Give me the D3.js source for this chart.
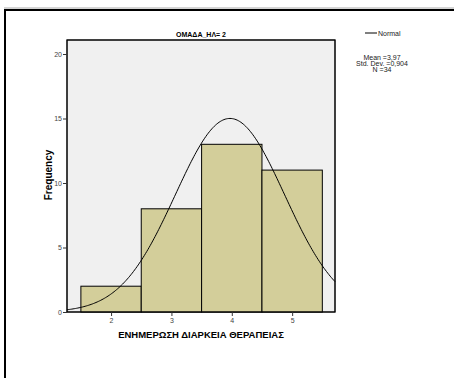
<!DOCTYPE html>
<html><head><meta charset="utf-8">
<script src="https://cdn.jsdelivr.net/npm/d3@7"></script>
<style>body{margin:0;background:#fff;} text{font-family:"Liberation Sans",Arial,sans-serif;}</style>
</head><body>
<svg id="c" width="454" height="378"></svg>
<script>
const categories = [2, 3, 4, 5];
const frequencies = [2, 8, 13, 11];
const yTicks = [0, 5, 10, 15, 20];
const xTicks = [2, 3, 4, 5];
const title = "ΟΜΑΔΑ_ΗΛ= 2";
const xLabel = "ΕΝΗΜΕΡΩΣΗ ΔΙΑΡΚΕΙΑ ΘΕΡΑΠΕΙΑΣ";
const yLabel = "Frequency";
const stats = ["Mean =3,97", "Std. Dev. =0,904", "N =34"];
const mean = 3.97, sd = 0.904, n = 34;

const svg = d3.select("#c");
// frame
svg.append("line").attr("x1",4).attr("x2",454).attr("y1",8).attr("y2",8).attr("stroke","#aaa").attr("stroke-width",1);
svg.append("line").attr("x1",5).attr("x2",454).attr("y1",10).attr("y2",10).attr("stroke","#000").attr("stroke-width",2);
svg.append("line").attr("x1",5).attr("x2",5).attr("y1",9).attr("y2",378).attr("stroke","#000").attr("stroke-width",2);

const L = 67, R = 335, T = 40, B = 312;
const x = d3.scaleLinear().domain([1.27, 5.71]).range([L, R]);
const y = d3.scaleLinear().domain([0, 20]).range([B, B - 20*12.9]);

svg.append("rect").attr("x",L).attr("y",T).attr("width",R-L).attr("height",B-T)
  .attr("fill","#f0f0f0").attr("stroke","#000").attr("stroke-width",1);

const g = svg.append("g");
g.selectAll("rect.bar").data(categories).join("rect").attr("class","bar")
  .attr("x", d => x(d-0.5)).attr("width", d => x(d+0.5)-x(d-0.5))
  .attr("y", (d,i) => y(frequencies[i])).attr("height", (d,i) => B - y(frequencies[i]))
  .attr("fill","#d3ce9a").attr("stroke","#000").attr("stroke-width",1);

// normal curve
const pts = d3.range(x.domain()[0], x.domain()[1]+0.001, 0.02).map(v => [v, n*1*Math.exp(-0.5*((v-mean)/sd)**2)/(sd*Math.sqrt(2*Math.PI))]);
g.append("path").datum(pts).attr("d", d3.line().x(d=>x(d[0])).y(d=>y(d[1])))
  .attr("fill","none").attr("stroke","#000").attr("stroke-width",1);

// plot border on top
svg.append("rect").attr("x",L).attr("y",T).attr("width",R-L).attr("height",B-T)
  .attr("fill","none").attr("stroke","#000").attr("stroke-width",1);

// axes
const ya = svg.append("g").attr("transform",`translate(${L},0)`)
  .call(d3.axisLeft(y).tickValues(yTicks).tickFormat(d3.format("d")).tickSize(4).tickPadding(1));
const xa = svg.append("g").attr("transform",`translate(0,${B})`)
  .call(d3.axisBottom(x).tickValues(xTicks).tickFormat(d3.format("d")).tickSize(4).tickPadding(2));
[ya, xa].forEach(a => {
  a.select(".domain").remove();
  a.selectAll("text").attr("font-size",7).attr("fill","#444").attr("font-family","Liberation Sans, Arial, sans-serif");
  a.selectAll("line").attr("stroke","#333");
});

svg.append("text").attr("x",(L+R)/2).attr("y",37).attr("text-anchor","middle")
  .attr("font-size",7).attr("font-weight","bold").text(title);
svg.append("text").attr("x",(L+R)/2).attr("y",338).attr("text-anchor","middle")
  .attr("font-size",9.5).attr("font-weight","bold").text(xLabel);
svg.append("text").attr("transform","translate(52,175) rotate(-90)").attr("text-anchor","middle")
  .attr("font-size",10).attr("font-weight","bold").text(yLabel);

// legend
svg.append("line").attr("x1",365).attr("x2",377).attr("y1",33).attr("y2",33).attr("stroke","#000").attr("stroke-width",1);
svg.append("text").attr("x",378).attr("y",35.5).attr("font-size",7).attr("fill","#222").text("Normal");
svg.selectAll("text.stat").data(stats).join("text").attr("class","stat")
  .attr("x",382).attr("y",(d,i)=>60+i*6).attr("text-anchor","middle")
  .attr("font-size",7).attr("fill","#222").text(d=>d);
</script>
</body></html>
